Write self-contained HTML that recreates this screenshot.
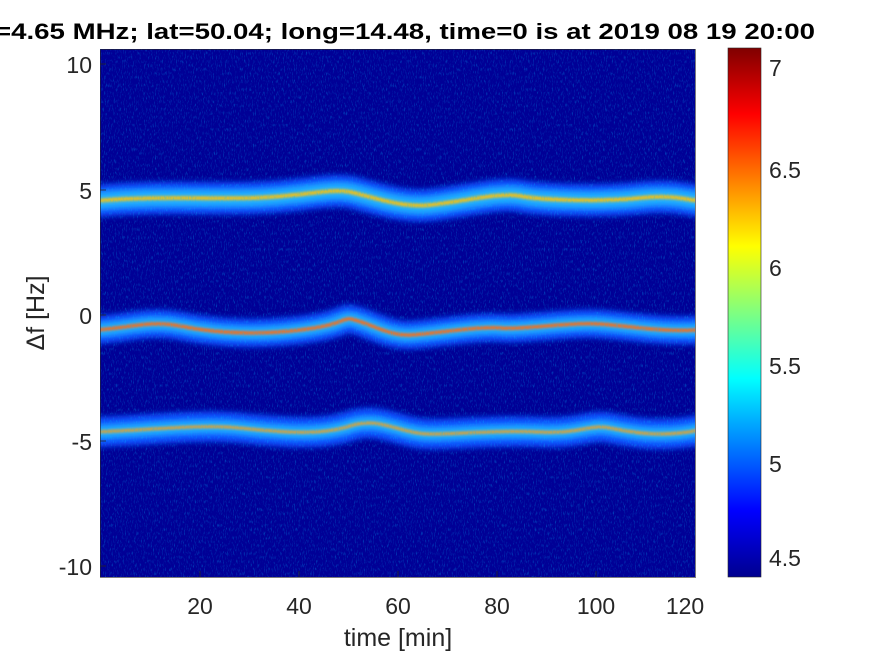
<!DOCTYPE html>
<html><head><style>
body{margin:0;background:#fff;width:875px;height:656px;overflow:hidden}
svg text{font-family:"Liberation Sans",sans-serif}
</style></head><body>
<svg width="875" height="656" viewBox="0 0 875 656">
<defs>
<linearGradient id="jet" x1="0" y1="1" x2="0" y2="0">
<stop offset="0" stop-color="#00008f"/><stop offset="0.125" stop-color="#0000ff"/>
<stop offset="0.375" stop-color="#00ffff"/><stop offset="0.625" stop-color="#ffff00"/>
<stop offset="0.875" stop-color="#ff0000"/><stop offset="1" stop-color="#800000"/>
</linearGradient>
<filter id="noise" x="0" y="0" width="1" height="1">
<feTurbulence type="fractalNoise" baseFrequency="0.9 0.25" numOctaves="2" seed="3"/>
<feColorMatrix type="matrix" values="0 0 0 0 0  0 0 0 0 0.5  0 0 0 0 1  0 0 0 3 -1.6"/>
<feComposite in2="SourceGraphic" operator="in"/>
</filter>
<filter id="bl"><feGaussianBlur stdDeviation="3"/></filter>
<filter id="bl2"><feGaussianBlur stdDeviation="1.2"/></filter>
<clipPath id="pc"><rect x="100" y="49" width="595" height="528"/></clipPath>
</defs>
<rect x="100" y="49" width="595" height="528" fill="#000096"/>
<g clip-path="url(#pc)">
<g fill="none" stroke-linecap="round" filter="url(#bl)">
<path id="b1" d="M95,201 C150,196 200,199 250,198 S330,188 350,192 S400,208 430,205 S500,192 520,196 S600,202 640,198 S690,202 700,200" stroke="#1050ff" stroke-width="32"/>
<path d="M95,201 C150,196 200,199 250,198 S330,188 350,192 S400,208 430,205 S500,192 520,196 S600,202 640,198 S690,202 700,200" stroke="#20b0ff" stroke-width="16"/>
<path d="M95,330 C130,328 150,320 180,326 S250,336 300,330 S340,316 355,320 S390,336 410,335 S480,326 500,328 S570,322 600,324 S660,332 700,330" stroke="#1050ff" stroke-width="28"/>
<path d="M95,330 C130,328 150,320 180,326 S250,336 300,330 S340,316 355,320 S390,336 410,335 S480,326 500,328 S570,322 600,324 S660,332 700,330" stroke="#20b0ff" stroke-width="12"/>
<path d="M95,432 C150,430 200,424 240,428 S320,436 350,426 S400,434 430,434 S500,430 540,432 S590,424 610,428 S660,438 700,430" stroke="#1050ff" stroke-width="30"/>
<path d="M95,432 C150,430 200,424 240,428 S320,436 350,426 S400,434 430,434 S500,430 540,432 S590,424 610,428 S660,438 700,430" stroke="#20b0ff" stroke-width="12"/>
</g>
<g fill="none" filter="url(#bl2)">
<path d="M95,201 C150,196 200,199 250,198 S330,188 350,192 S400,208 430,205 S500,192 520,196 S600,202 640,198 S690,202 700,200" stroke="#e8c020" stroke-width="4"/>
<path d="M95,330 C130,328 150,320 180,326 S250,336 300,330 S340,316 355,320 S390,336 410,335 S480,326 500,328 S570,322 600,324 S660,332 700,330" stroke="#f07020" stroke-width="3.5"/>
<path d="M95,432 C150,430 200,424 240,428 S320,436 350,426 S400,434 430,434 S500,430 540,432 S590,424 610,428 S660,438 700,430" stroke="#e0a030" stroke-width="3"/>
</g>
<rect x="100" y="49" width="595" height="528" fill="#000" filter="url(#noise)" opacity="0.35"/>
</g>
<rect x="100.5" y="49.5" width="595" height="528" fill="none" stroke="#262626" stroke-width="0.6"/>
<g stroke="#262626" stroke-width="0.8">
<line x1="200" y1="577" x2="200" y2="571"/><line x1="299" y1="577" x2="299" y2="571"/><line x1="398" y1="577" x2="398" y2="571"/><line x1="497" y1="577" x2="497" y2="571"/><line x1="596" y1="577" x2="596" y2="571"/>
<line x1="100" y1="64" x2="106" y2="64"/><line x1="100" y1="190" x2="106" y2="190"/><line x1="100" y1="315" x2="106" y2="315"/><line x1="100" y1="441" x2="106" y2="441"/><line x1="100" y1="566" x2="106" y2="566"/>
</g>
<g font-size="23" fill="#262626">
<text x="200" y="614" text-anchor="middle">20</text>
<text x="299" y="614" text-anchor="middle">40</text>
<text x="398" y="614" text-anchor="middle">60</text>
<text x="497" y="614" text-anchor="middle">80</text>
<text x="596" y="614" text-anchor="middle">100</text>
<text x="685" y="614" text-anchor="middle">120</text>
<text x="92" y="73" text-anchor="end">10</text>
<text x="92" y="199" text-anchor="end">5</text>
<text x="92" y="324" text-anchor="end">0</text>
<text x="92" y="450" text-anchor="end">-5</text>
<text x="92" y="575" text-anchor="end">-10</text>
<text x="398" y="646" text-anchor="middle" font-size="25">time [min]</text>
<text transform="translate(44,313) rotate(-90)" text-anchor="middle" font-size="25">Δf [Hz]</text>
</g>
<text x="405" y="39" text-anchor="middle" font-size="22" font-weight="bold" fill="#000" textLength="820" lengthAdjust="spacingAndGlyphs">=4.65 MHz;  lat=50.04; long=14.48, time=0 is at 2019 08 19 20:00</text>
<rect x="728" y="48" width="33" height="529" fill="url(#jet)" stroke="#262626" stroke-width="0.6"/>
<g font-size="23" fill="#262626">
<text x="769" y="76">7</text>
<text x="769" y="178">6.5</text>
<text x="769" y="276">6</text>
<text x="769" y="374">5.5</text>
<text x="769" y="472">5</text>
<text x="769" y="566">4.5</text>
</g>
</svg>
</body></html>
